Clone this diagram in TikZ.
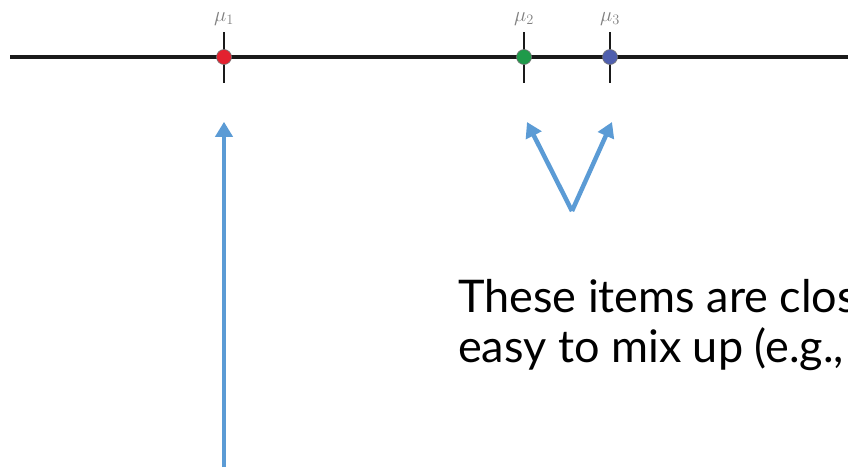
\documentclass[tikz,border=0pt]{standalone}
\usepackage{fontspec}
\setmainfont{Lato}
\usetikzlibrary{arrows.meta, positioning}
\definecolor{axisblack}{HTML}{1A1A1A}
\definecolor{dotred}{HTML}{E3212F}
\definecolor{dotgreen}{HTML}{1F9A4A}
\definecolor{dotblue}{HTML}{4F5FAE}
\definecolor{arrowblue}{HTML}{5B9BD5}

\begin{document}
\begin{tikzpicture}[
    x=1pt, y=-1pt,
    >={Triangle[length=15pt, width=17pt]},
    tick/.style={draw=axisblack, line width=2.6pt},
    mean/.style={circle, draw=axisblack!60, line width=0.6pt, minimum size=15pt, inner sep=0pt},
    mulbl/.style={font=\fontsize{22}{26}\selectfont, text=black!50, anchor=base, inner sep=0pt},
    pointer/.style={draw=arrowblue, ->, line width=4.5pt, arrowblue},
    note/.style={font=\fontsize{45}{50}\selectfont, align=left, inner sep=0pt, anchor=base west}
]
\useasboundingbox (0,0) rectangle (848,469);

% the axis
\coordinate (axisL) at (10,57);
\coordinate (axisR) at (860,57);
\draw[axisblack, line width=4.2pt] (axisL) -- (axisR);

% the three means with their ticks
\foreach \name/\xpos/\col/\idx in {muA/224/dotred/1, muB/524/dotgreen/2, muC/610/dotblue/3} {
    \draw[tick] (\xpos,32) coordinate (\name top) -- (\xpos,83);
    \node[mean, fill=\col] (\name) at (\xpos,57) {};
    \node[mulbl] (\name lbl) at ([yshift=11pt]\name top) {$\mu_{\idx}$};
}

% long arrow to the first mean
\coordinate (tailA) at (224,467);
\draw[pointer] (tailA) -- ([yshift=-57pt]muA.south);

% V shaped pair of arrows
\coordinate (vtip) at (572,211);
\coordinate (tipB) at (527,122);
\coordinate (tipC) at (612,122);
\draw[pointer] (vtip) -- (tipB);
\draw[pointer] (vtip) -- (tipC);

% text, runs off the right edge
\node[note] (txt) at (458,362) {These items are clos\\easy to mix up (e.g.,};

\end{tikzpicture}
\end{document}
